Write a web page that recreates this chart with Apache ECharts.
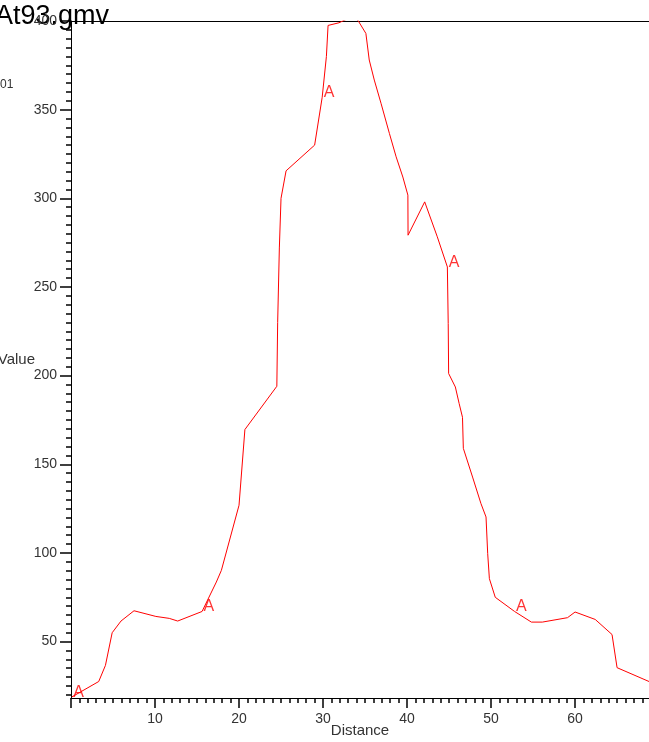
<!DOCTYPE html>
<html>
<head>
<meta charset="utf-8">
<script src="https://cdn.jsdelivr.net/npm/echarts@6/dist/echarts.min.js"></script>
<style>
  html, body { margin: 0; padding: 0; background: #ffffff; }
  #chart { width: 649px; height: 742px; }
</style>
</head>
<body>
<div id="chart"></div>
<script>
// Line profile of At93.gmv: value sampled along distance
const distance = [
  0.1, 3.3, 4.1, 4.9, 5.95, 7.5, 10.1, 11.7, 12.7, 15.6, 17.3, 17.9, 20.0, 20.7,
  24.5, 24.6, 24.8, 25.0, 25.6, 29.0, 29.9, 30.4, 30.6, 31.9, 32.8, 33.5, 34.2,
  35.1, 35.5, 36.1, 36.9, 37.9, 38.7, 39.5, 40.1, 40.12, 42.1, 43.6, 44.8, 44.9,
  44.95, 45.75, 46.2, 46.6, 46.7, 47.8, 48.8, 49.4, 49.6, 49.8, 50.5, 52.8, 54.8,
  56.1, 59.1, 60.0, 62.4, 64.4, 65.0, 68.8
];
const value = [
  18.8, 27.5, 36.6, 55.0, 61.6, 67.4, 64.2, 63.1, 61.6, 67.0, 83.6, 90.2, 126.9, 169.6,
  194.0, 230.0, 272.0, 300.0, 315.5, 330.0, 357.0, 380.0, 397.5, 399.0, 401.0, 404.0, 400.0,
  393.0, 378.0, 366.7, 353.6, 336.6, 323.4, 312.0, 301.8, 279.2, 298.0, 278.3, 261.3, 229.4,
  201.2, 193.6, 184.3, 176.5, 159.0, 142.8, 127.8, 120.3, 99.6, 85.5, 75.0, 67.0, 61.0,
  61.0, 63.5, 66.7, 62.5, 54.0, 35.3, 27.5
];
// Samples carrying the "A" point marker
const markerIdx = [0, 9, 20, 38, 51];
const markerText = 'A';

const xTickLabels = [10, 20, 30, 40, 50, 60];
const yTickLabels = [50, 100, 150, 200, 250, 300, 350, 400];

const X_MIN = 0, X_MAX = 68.8;
const Y_MIN = 18.2, Y_MAX = 400;

// major ticks every 10 / 50, minor ticks every 1 / 5
const xMajor = [];
for (let v = Math.ceil(X_MIN / 10) * 10; v <= X_MAX; v += 10) xMajor.push(v);
const yMajor = [];
for (let v = Math.ceil(Y_MIN / 50) * 50; v <= Y_MAX; v += 50) yMajor.push(v);
const xMinor = [];
for (let v = Math.ceil(X_MIN); v <= X_MAX; v += 1) xMinor.push(v);
const yMinor = [];
for (let v = Math.ceil(Y_MIN / 5) * 5; v <= Y_MAX; v += 5) yMinor.push(v);

const lineData = distance.map((d, i) => [d, value[i]]);
const markerData = markerIdx.map(i => [distance[i], value[i]]);

const textColor = '#333333';
const font = '"Liberation Sans", Arial, sans-serif';

// four grids share one plot rectangle: labels + axes, major ticks, minor ticks, top frame line
const plotRect = { left: 71, right: 0, top: 21, bottom: 44, outerBoundsMode: 'none' };

function tickAxis(gridIndex, min, max, values, length, position) {
  return {
    type: 'value',
    gridIndex: gridIndex,
    min: min, max: max,
    position: position,
    axisLine: { show: false },
    axisTick: { show: true, customValues: values, length: length, lineStyle: { color: 'black', width: 1.5 } },
    axisLabel: { show: false },
    splitLine: { show: false }
  };
}

const chart = echarts.init(document.getElementById('chart'));

chart.setOption({
  animation: false,
  backgroundColor: '#ffffff',
  graphic: [{
    type: 'text',
    x: -5,
    y: 3,
    style: { text: 'At93.gmv', fontSize: 27, fill: '#000000', fontFamily: font }
  }, {
    type: 'text',
    x: 0,
    y: 79,
    style: { text: '01', fontSize: 12, fill: textColor, fontFamily: font }
  }],
  grid: [plotRect, plotRect, plotRect, plotRect],
  xAxis: [{
    type: 'value',
    gridIndex: 0,
    min: X_MIN, max: X_MAX,
    name: 'Distance',
    nameLocation: 'middle',
    nameGap: 25,
    nameMoveOverlap: false,
    nameTextStyle: { fontSize: 15, color: textColor, fontFamily: font },
    axisLine: { show: true, lineStyle: { color: '#000' } },
    axisTick: { show: false },
    axisLabel: { customValues: xTickLabels, margin: 14, fontSize: 14, color: textColor, fontFamily: font },
    splitLine: { show: false }
  },
    tickAxis(1, X_MIN, X_MAX, xMajor, 10, 'bottom'),
    tickAxis(2, X_MIN, X_MAX, xMinor, 5, 'bottom'),
  {
    type: 'value',
    gridIndex: 3,
    min: X_MIN, max: X_MAX,
    position: 'top',
    axisLine: { show: true, lineStyle: { color: '#000' } },
    axisTick: { show: false },
    axisLabel: { show: false },
    splitLine: { show: false }
  }],
  yAxis: [{
    type: 'value',
    gridIndex: 0,
    min: Y_MIN, max: Y_MAX,
    name: 'Value',
    nameLocation: 'middle',
    nameRotate: 0,
    nameGap: 36,
    nameMoveOverlap: false,
    nameTextStyle: { fontSize: 15, color: textColor, fontFamily: font, align: 'right', padding: [6, 0, 0, 0] },
    axisLine: { show: true, lineStyle: { color: '#000' } },
    axisTick: { show: false },
    axisLabel: { customValues: yTickLabels, margin: 14, fontSize: 14, color: textColor, fontFamily: font },
    splitLine: { show: false }
  },
    tickAxis(1, Y_MIN, Y_MAX, yMajor, 11, 'left'),
    tickAxis(2, Y_MIN, Y_MAX, yMinor, 5, 'left'),
  {
    type: 'value',
    gridIndex: 3,
    min: Y_MIN, max: Y_MAX,
    axisLine: { show: false },
    axisTick: { show: false },
    axisLabel: { show: false },
    splitLine: { show: false }
  }],
  series: [{
    type: 'line',
    data: lineData,
    showSymbol: false,
    symbol: 'none',
    clip: true,
    lineStyle: { color: '#ff0000', width: 1 },
    silent: true
  }, {
    type: 'scatter',
    data: markerData,
    symbolSize: 1,
    itemStyle: { color: 'rgba(255,0,0,0)' },
    clip: false,
    silent: true,
    label: {
      show: true,
      formatter: markerText,
      position: [2, 4],
      align: 'left',
      verticalAlign: 'bottom',
      fontSize: 16,
      color: '#ff0000',
      fontFamily: font
    }
  }]
});
</script>
</body>
</html>
